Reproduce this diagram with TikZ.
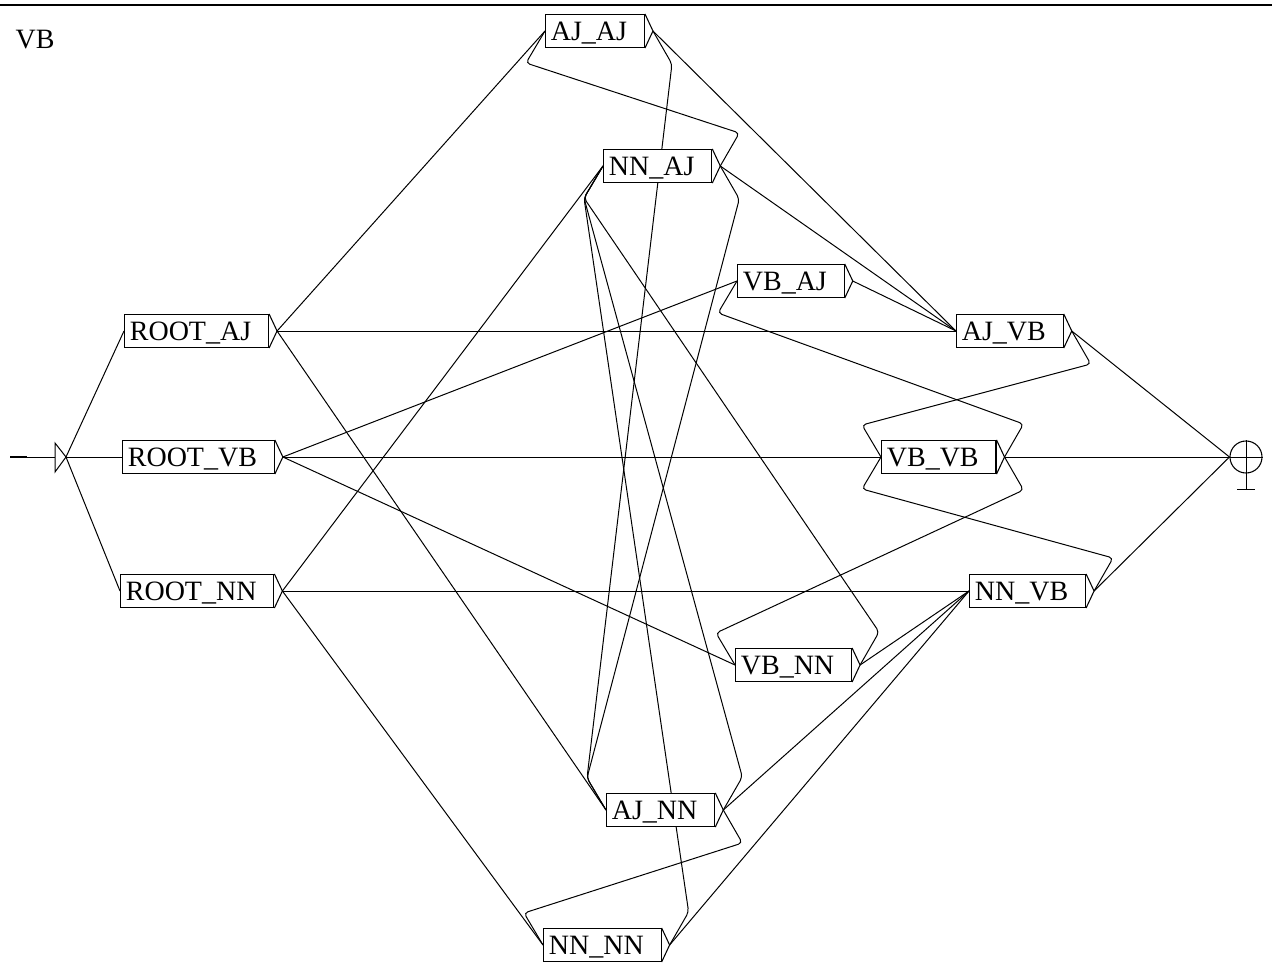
\documentclass[tikz,border=0pt]{standalone}
\usepackage{fontspec}
\setmainfont{Liberation Serif}
\usetikzlibrary{calc, backgrounds}

\begin{document}
\begin{tikzpicture}[x=0.75pt, y=-0.75pt,
    tagbox/.style={draw, fill=white, anchor=west, line width=0.8pt, inner xsep=4pt, inner ysep=2pt, text height=17.5pt, text depth=3.25pt, font=\fontsize{21}{24}\selectfont, execute at end node={\hspace{9pt}}},
    trans/.style={line width=0.75pt},
    loopcorner/.style={trans, rounded corners=3pt},
]
    \useasboundingbox (0,0) rectangle (1272,963);
    \draw[line width=1.5pt] (0,5) -- (1272,5);
    \node[anchor=west, font=\fontsize{21}{24}\selectfont] (title) at (11,40) {VB};

    % boxes
    \node[tagbox] (rootaj) at (124,331) {ROOT\_AJ};
    \node[tagbox] (rootvb) at (122,457) {ROOT\_VB};
    \node[tagbox] (rootnn) at (120,591) {ROOT\_NN};
    \node[tagbox] (ajaj) at (545,31) {AJ\_AJ};
    \node[tagbox] (nnaj) at (603,166) {NN\_AJ};
    \node[tagbox] (vbaj) at (737,281) {VB\_AJ};
    \node[tagbox] (ajvb) at (956,331) {AJ\_VB};
    \node[tagbox] (vbvb) at (881,457) {VB\_VB};
    \node[tagbox] (nnvb) at (969,591) {NN\_VB};
    \node[tagbox] (vbnn) at (735,665) {VB\_NN};
    \node[tagbox] (ajnn) at (606,810) {AJ\_NN};
    \node[tagbox] (nnnn) at (543,945) {NN\_NN};

    \foreach \n in {rootaj,rootvb,rootnn,ajaj,nnaj,vbaj,ajvb,vbvb,nnvb,ajnn,vbnn,nnnn}
        \draw[line width=0.8pt] (\n.north east) -- ($(\n.east)+(8,0)$) coordinate (\n-out) -- (\n.south east);

    % initial and final states
    \coordinate (init) at (66,457);
    \draw[trans] (55,443) -- (init) -- (55,472) -- cycle;
    \draw[line width=2pt] (10,457) -- (27,457);
    \draw[trans] (27,457) -- (55,457);

    \node[circle, draw, fill=white, line width=0.8pt, minimum size=24pt, inner sep=0pt] (fin) at (1246,457) {};
    \draw[trans] (fin.west) -- (fin.east);
    \draw[trans] (fin.north) -- ++(0,49) coordinate (finfoot);
    \draw[trans] ($(finfoot)+(-9,0)$) -- ($(finfoot)+(9,0)$);

    \begin{scope}[on background layer]
        \foreach \dst in {rootaj,rootvb,rootnn}
            \draw[trans] (init) -- (\dst.west);
        \foreach \src/\dst in {rootaj/ajaj, rootaj/ajvb, rootaj/ajnn,
                               rootvb/vbaj, rootvb/vbvb, rootvb/vbnn,
                               rootnn/nnaj, rootnn/nnvb, rootnn/nnnn,
                               ajaj/ajvb, nnaj/ajvb, vbaj/ajvb,
                               ajnn/nnvb, vbnn/nnvb, nnnn/nnvb}
            \draw[trans] (\src-out) -- (\dst.west);
        \foreach \src in {ajvb,vbvb,nnvb}
            \draw[trans] (\src-out) -- (fin.west);
        % loops back, upwards
        \foreach \src/\dst in {nnaj/ajaj, vbvb/vbaj, nnvb/vbvb, ajnn/nnaj, vbnn/nnaj, nnnn/nnaj}
            \draw[loopcorner] (\src-out) -- ++(19,-33) -- ($(\dst.west)+(-19,32)$) -- (\dst.west);
        % loops back, downwards
        \foreach \src/\dst in {ajaj/ajnn, nnaj/ajnn, ajvb/vbvb, vbvb/vbnn, ajnn/nnnn}
            \draw[loopcorner] (\src-out) -- ++(19,33) -- ($(\dst.west)+(-19,-32)$) -- (\dst.west);
    \end{scope}
\end{tikzpicture}
\end{document}
